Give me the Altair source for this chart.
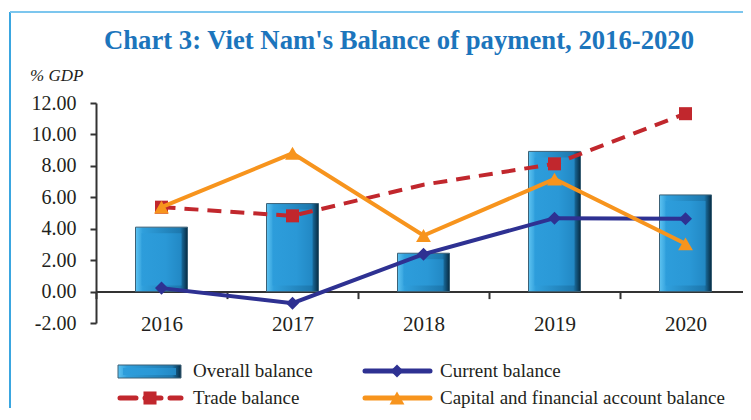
import altair as alt
import pandas as pd

years = ["2016", "2017", "2018", "2019", "2020"]
overall = [4.10, 5.60, 2.44, 8.92, 6.15]
current = [0.22, -0.74, 2.38, 4.67, 4.63]
trade = [5.37, 4.82, 6.80, 8.13, 11.32]
capital = [5.37, 8.80, 3.57, 7.16, 3.04]
y_ticks = [-2, 0, 2, 4, 6, 8, 10, 12]

title_text = "Chart 3: Viet Nam's Balance of payment, 2016-2020"
unit_text = "% GDP"
names = ["Overall balance", "Current balance", "Trade balance",
         "Capital and financial account balance"]

SERIF = "Liberation Serif"
NAVY = "#2e3192"
RED = "#c1272d"
ORANGE = "#f7941d"
TXT = "#231f20"
AX = "#333333"

df = pd.DataFrame({"year": years, "overall": overall, "current": current,
                   "trade": trade, "capital": capital})

outer_grad = alt.LinearGradient(
    gradient="linear", x1=0, x2=1, y1=0, y2=0,
    stops=[alt.GradientStop(color="#5ec3f1", offset=0),
           alt.GradientStop(color="#2f9fdc", offset=0.14),
           alt.GradientStop(color="#1d78ae", offset=0.86),
           alt.GradientStop(color="#072b42", offset=1)])
inner_grad = alt.LinearGradient(
    gradient="linear", x1=0, x2=1, y1=0, y2=0,
    stops=[alt.GradientStop(color="#2d9ddb", offset=0),
           alt.GradientStop(color="#2a98d6", offset=0.6),
           alt.GradientStop(color="#2288c4", offset=1)])

xenc = alt.X("year:N", sort=years,
             scale=alt.Scale(paddingInner=0, paddingOuter=0, range=[0, 655]),
             axis=alt.Axis(title=None, labelAngle=0, offset=-31.4, tickBand="extent",
                           tickSize=7, tickWidth=2, tickColor=AX, domainColor=AX,
                           domainWidth=2, labelPadding=15, labelFont=SERIF,
                           labelFontSize=21, labelColor=TXT, grid=False))
yscale = alt.Scale(domain=[-2, 12], nice=False, zero=False)
yaxis = alt.Axis(title=None, values=y_ticks, format=".2f", tickSize=6, tickWidth=2,
                 tickColor=AX, domainColor=AX, domainWidth=2, labelPadding=14,
                 labelFont=SERIF, labelFontSize=20, labelColor=TXT, grid=False,
                 labelOverlap=False, labelBound=False,
                 labelExpr="replace(datum.label, '\u2212', '-')")


def yenc(field):
    return alt.Y(field + ":Q", scale=yscale, axis=yaxis)


base = alt.Chart(df).encode(x=xenc)

bars = base.mark_bar(size=52, color=outer_grad, stroke="#3c6176", strokeWidth=1).encode(
    y=yenc("overall"), y2=alt.datum(0))
bars_in = base.mark_bar(size=40, color=inner_grad, yOffset=6, y2Offset=-6).encode(
    y=yenc("overall"), y2=alt.datum(0))

cur_line = base.mark_line(color=NAVY, strokeWidth=4).encode(y=yenc("current"))
cur_pts = base.mark_point(shape="diamond", filled=True, color=NAVY, size=170, opacity=1).encode(
    y=yenc("current"))

tr_line = base.mark_line(color=RED, strokeWidth=4, strokeDash=[14, 9]).encode(y=yenc("trade"))
tr_pts = base.mark_point(shape="square", filled=True, color=RED, size=170, opacity=1).encode(
    y=yenc("trade")).transform_filter(alt.datum.year != "2018")

cap_line = base.mark_line(color=ORANGE, strokeWidth=4).encode(y=yenc("capital"))
cap_pts = base.mark_point(shape="triangle-up", filled=True, color=ORANGE, size=220, opacity=1).encode(
    y=yenc("capital"))

title = alt.Chart(pd.DataFrame({"t": [title_text]})).mark_text(
    font=SERIF, fontSize=26.7, fontWeight="bold", color="#1c75bc",
    align="center", baseline="alphabetic").encode(
    text="t:N", x=alt.value(303), y=alt.value(-54))
unit = alt.Chart(pd.DataFrame({"t": [unit_text]})).mark_text(
    font=SERIF, fontSize=17, fontStyle="italic", color=TXT, align="left",
    baseline="alphabetic").encode(text="t:N", x=alt.value(-66), y=alt.value(-22))

brd = pd.DataFrame({"k": [0]})
border_left = alt.Chart(brd).mark_rule(color="#3aa6e0", strokeWidth=2).encode(
    x=alt.value(-86), y=alt.value(-91), y2=alt.value(330))
border_top = alt.Chart(brd).mark_rule(color="#7cc6ee", strokeWidth=2).encode(
    x=alt.value(-86), x2=alt.value(660), y=alt.value(-91))


def lab(name, x, y):
    return alt.Chart(pd.DataFrame({"t": [name]})).mark_text(
        font=SERIF, fontSize=19, color=TXT, align="left", baseline="alphabetic").encode(
        text="t:N", x=alt.value(x), y=alt.value(y + 6))


R1, R2 = 268, 295
leg = [
    alt.Chart(brd).mark_rect(color=outer_grad, stroke="#3c6176", strokeWidth=1).encode(
        x=alt.value(22), x2=alt.value(85), y=alt.value(R1 - 6), y2=alt.value(R1 + 7)),
    alt.Chart(brd).mark_rect(color=inner_grad).encode(
        x=alt.value(27), x2=alt.value(80), y=alt.value(R1 - 3), y2=alt.value(R1 + 4)),
    lab(names[0], 97, R1),
    alt.Chart(brd).mark_rule(color=NAVY, strokeWidth=5, strokeCap="round").encode(
        x=alt.value(269), x2=alt.value(334), y=alt.value(R1)),
    alt.Chart(brd).mark_point(shape="diamond", filled=True, color=NAVY, size=170, opacity=1).encode(
        x=alt.value(301), y=alt.value(R1)),
    lab(names[1], 344, R1),
    alt.Chart(brd).mark_rule(color=RED, strokeWidth=5, strokeDash=[16, 9], strokeCap="round").encode(
        x=alt.value(24), x2=alt.value(85), y=alt.value(R2)),
    alt.Chart(brd).mark_point(shape="square", filled=True, color=RED, size=170, opacity=1).encode(
        x=alt.value(54), y=alt.value(R2)),
    lab(names[2], 97, R2),
    alt.Chart(brd).mark_rule(color=ORANGE, strokeWidth=5, strokeCap="round").encode(
        x=alt.value(269), x2=alt.value(334), y=alt.value(R2)),
    alt.Chart(brd).mark_point(shape="triangle-up", filled=True, color=ORANGE, size=220, opacity=1).encode(
        x=alt.value(301), y=alt.value(R2)),
    lab(names[3], 344, R2),
]

chart = alt.layer(
    border_left, border_top, bars, bars_in, cur_line, cur_pts, tr_line, tr_pts,
    cap_line, cap_pts, title, unit, *leg
).properties(
    width=647, height=220, autosize="none",
    padding={"left": 88, "top": 95, "right": 0, "bottom": 85},
    background="white"
).configure_view(stroke=None).configure_axis(
    labelFont=SERIF, labelColor=TXT
).configure_axisY(labelOverlap=False, labelFont=SERIF, labelFontSize=20)

chart.save("out.html", embed_options={"renderer": "svg", "actions": False})
